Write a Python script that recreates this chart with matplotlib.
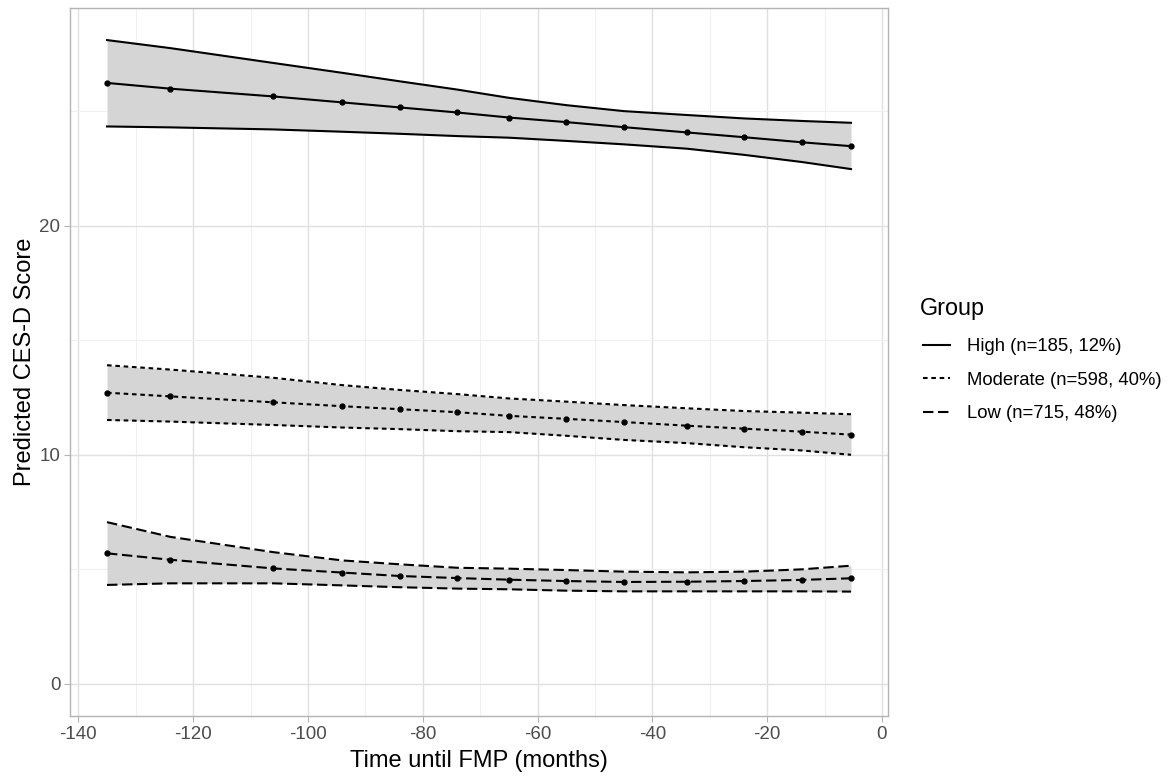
import numpy as np
import matplotlib.pyplot as plt
from matplotlib.lines import Line2D

plt.rcParams['font.family'] = ['Liberation Sans', 'DejaVu Sans']
plt.rcParams['axes.unicode_minus'] = False

# months before FMP at which predictions were made
months = [-135, -124, -106, -94, -84, -74, -65, -55, -45, -34, -24, -14, -5.4]

high_fit = [26.23, 25.98, 25.64, 25.38, 25.16, 24.94, 24.72, 24.52, 24.30, 24.07, 23.86, 23.64, 23.47]
high_up = [28.10, 27.75, 27.10, 26.67, 26.30, 25.94, 25.58, 25.26, 25.00, 24.83, 24.68, 24.57, 24.49]
high_lo = [24.33, 24.29, 24.20, 24.10, 24.01, 23.91, 23.84, 23.70, 23.55, 23.36, 23.09, 22.78, 22.47]

mod_fit = [12.71, 12.55, 12.29, 12.12, 11.99, 11.86, 11.70, 11.57, 11.43, 11.27, 11.14, 11.01, 10.88]
mod_up = [13.91, 13.72, 13.36, 13.04, 12.83, 12.65, 12.46, 12.32, 12.17, 12.03, 11.91, 11.84, 11.77]
mod_lo = [11.52, 11.45, 11.30, 11.19, 11.12, 11.03, 10.99, 10.83, 10.65, 10.51, 10.33, 10.19, 10.00]

low_fit = [5.70, 5.42, 5.04, 4.86, 4.71, 4.62, 4.55, 4.49, 4.45, 4.46, 4.49, 4.54, 4.61]
low_up = [7.06, 6.42, 5.75, 5.39, 5.22, 5.07, 5.03, 4.97, 4.90, 4.87, 4.90, 5.00, 5.16]
low_lo = [4.32, 4.39, 4.39, 4.30, 4.22, 4.16, 4.13, 4.07, 4.04, 4.04, 4.04, 4.04, 4.03]

labels = ['High (n=185, 12%)', 'Moderate (n=598, 40%)', 'Low (n=715, 48%)']
styles = ['-', (0, (2.2, 1.8)), (0, (5, 2.2))]
groups = [(high_fit, high_up, high_lo), (mod_fit, mod_up, mod_lo), (low_fit, low_up, low_lo)]

fig = plt.figure(figsize=(11.75, 7.76), dpi=100)
ax = fig.add_axes([70/1175, 1-716/776, (888-70)/1175, (716-8)/776])

for (fit, up, lo), ls in zip(groups, styles):
    ax.fill_between(months, lo, up, color='#d5d5d5', lw=0, zorder=1)
    ax.plot(months, up, color='black', ls=ls, lw=1.5, zorder=2)
    ax.plot(months, lo, color='black', ls=ls, lw=1.5, zorder=2)
    ax.plot(months, fit, color='black', ls=ls, lw=1.5, zorder=3)
    ax.plot(months, fit, 'o', color='black', ms=3.5, zorder=4)

ax.set_xlim(-141.45, 1.05)
ax.set_ylim(-1.4, 29.5)
ax.set_xticks(np.arange(-140, 1, 20))
ax.set_xticks(np.arange(-130, 0, 20), minor=True)
ax.set_yticks([0, 10, 20])
ax.set_yticks([5, 15, 25], minor=True)
ax.grid(which='major', color='#e0e0e0', lw=1.0, zorder=0)
ax.grid(which='minor', color='#f0f0f0', lw=0.8, zorder=0)
ax.set_axisbelow(True)
for s in ax.spines.values():
    s.set_color('#b3b3b3')
    s.set_linewidth(1.0)
ax.tick_params(which='major', color='#b3b3b3', length=4, labelsize=13.5, labelcolor='#4d4d4d', pad=3)
ax.tick_params(which='minor', length=0)
ax.set_xlabel('Time until FMP (months)', fontsize=17, labelpad=5)
ax.set_ylabel('Predicted CES-D Score', fontsize=17, labelpad=2)

fig.text(920/1175, 1-315/776, 'Group', fontsize=16.8, va='baseline', ha='left')
handles = [Line2D([], [], color='black', ls=ls, lw=1.5) for ls in styles]
leg = fig.legend(handles, labels, loc='upper left',
                 bbox_to_anchor=(923/1175, 1-338/776), frameon=False,
                 fontsize=13.3, handlelength=1.46, borderpad=0, borderaxespad=0,
                 labelspacing=0.9, handletextpad=0.92)

fig.savefig('out.png', dpi=100)
